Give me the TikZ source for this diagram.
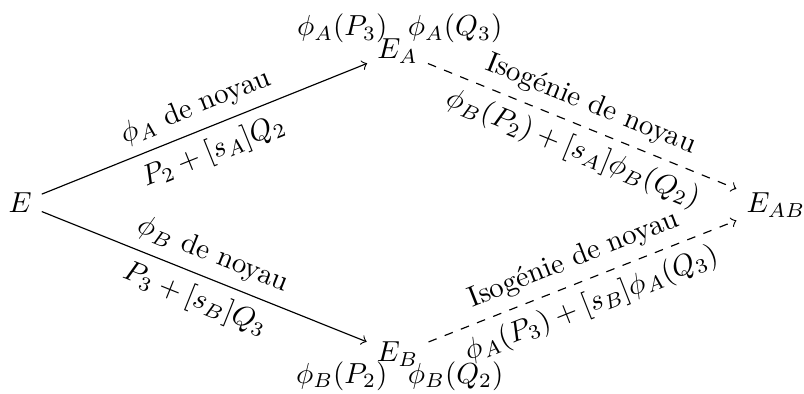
\documentclass[tikz,border=0pt]{standalone}
\usepackage{amsmath}
\usepackage{tikz}
\usetikzlibrary{positioning,calc}
\tikzset{
  crv/.style  = {inner sep=3.33pt},
  ar/.style   = {->},
  dar/.style  = {->, dashed},
  lbl/.style  = {midway, sloped},
}

\begin{document}
\begin{tikzpicture}
  \useasboundingbox (-0.243,-2.316) rectangle (9.51,2.461);

  % --- courbes ---
  \node[crv] (E)   at (0,0)          {$E$};
  \node[crv] (EA)  at (4.58,1.84)    {$E_A$};
  \node[crv] (EB)  at (4.58,-1.835)  {$E_B$};
  \node[crv] (EAB) at (9.17,-0.025)  {$E_{AB}$};

  % --- images des points ---
  \node[anchor=base east] (phiAP) at ($(EA)+(0,5.3pt)$)  {$\phi_A(P_3)$};
  \node[anchor=base west] (phiAQ) at ($(EA)+(0,5.3pt)$)  {$\phi_A(Q_3)$};
  \node[anchor=base east] (phiBP) at ($(EB)+(0,-10pt)$) {$\phi_B(P_2)$};
  \node[anchor=base west] (phiBQ) at ($(EB)+(0,-10pt)$) {$\phi_B(Q_2)$};

  % --- isogenies ---
  \draw[ar] (E) -- (EA)
    node[lbl, above] {$\phi_A$ de noyau}
    node[lbl, below] {$P_2+[s_A]Q_2$};
  \draw[ar] (E) -- (EB)
    node[lbl, above] {$\phi_B$ de noyau}
    node[lbl, below] {$P_3+[s_B]Q_3$};
  \draw[dar] (EA) -- (EAB)
    node[lbl, above] {Isogénie de noyau}
    node[lbl, below] {$\phi_B(P_2)+[s_A]\phi_B(Q_2)$};
  \draw[dar] (EB) -- (EAB)
    node[lbl, above] {Isogénie de noyau}
    node[lbl, below] {$\phi_A(P_3)+[s_B]\phi_A(Q_3)$};
\end{tikzpicture}
\end{document}
